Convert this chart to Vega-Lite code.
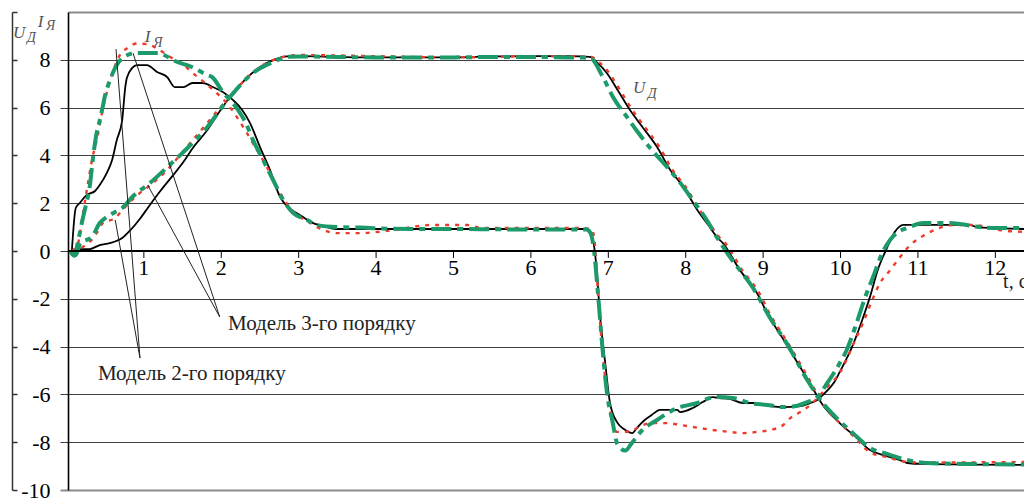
{
  "$schema": "https://vega.github.io/schema/vega-lite/v6.json",
  "width": 956,
  "height": 478,
  "autosize": "none",
  "padding": {"left": 68, "top": 12, "right": 0, "bottom": 8},
  "background": "white",
  "config": {"view": {"stroke": null}},
  "datasets": {
    "black": [
      {"c":"I","t":0.07,"v":0},{"c":"I","t":0.12,"v":1.8},{"c":"I","t":0.17,"v":2.0},{"c":"I","t":0.26,"v":2.34},{"c":"I","t":0.37,"v":2.51},{"c":"I","t":0.43,"v":2.76},{"c":"I","t":0.52,"v":3.26},{"c":"I","t":0.59,"v":3.81},{"c":"I","t":0.65,"v":4.64},{"c":"I","t":0.72,"v":5.48},{"c":"I","t":0.76,"v":6.86},{"c":"I","t":0.78,"v":7.24},{"c":"I","t":0.85,"v":7.66},{"c":"I","t":0.91,"v":7.78},{"c":"I","t":1.04,"v":7.78},{"c":"I","t":1.17,"v":7.49},{"c":"I","t":1.3,"v":7.28},{"c":"I","t":1.4,"v":6.86},{"c":"I","t":1.51,"v":6.86},{"c":"I","t":1.63,"v":7.03},{"c":"I","t":1.76,"v":7.03},{"c":"I","t":1.89,"v":6.86},{"c":"I","t":2.02,"v":6.65},{"c":"I","t":2.15,"v":6.32},{"c":"I","t":2.27,"v":5.9},{"c":"I","t":2.37,"v":5.36},{"c":"I","t":2.5,"v":4.35},{"c":"I","t":2.63,"v":3.39},{"c":"I","t":2.76,"v":2.26},{"c":"I","t":2.89,"v":1.76},{"c":"I","t":3.02,"v":1.5},{"c":"I","t":3.15,"v":1.22},{"c":"I","t":3.3,"v":1.05},{"c":"I","t":3.49,"v":0.92},{"c":"I","t":4.5,"v":0.92},{"c":"I","t":5.5,"v":0.92},{"c":"I","t":6.5,"v":0.92},{"c":"I","t":6.72,"v":0.92},{"c":"I","t":6.77,"v":0.7},{"c":"I","t":6.81,"v":0.33},{"c":"I","t":6.85,"v":-0.8},{"c":"I","t":6.89,"v":-2.59},{"c":"I","t":6.96,"v":-4.69},{"c":"I","t":7.02,"v":-6.32},{"c":"I","t":7.11,"v":-7.15},{"c":"I","t":7.22,"v":-7.49},{"c":"I","t":7.31,"v":-7.62},{"c":"I","t":7.37,"v":-7.4},{"c":"I","t":7.47,"v":-7.07},{"c":"I","t":7.56,"v":-6.86},{"c":"I","t":7.67,"v":-6.65},{"c":"I","t":7.89,"v":-6.65},{"c":"I","t":7.93,"v":-6.74},{"c":"I","t":8.09,"v":-6.57},{"c":"I","t":8.22,"v":-6.32},{"c":"I","t":8.35,"v":-6.11},{"c":"I","t":8.44,"v":-6.15},{"c":"I","t":8.57,"v":-6.19},{"c":"I","t":8.74,"v":-6.36},{"c":"I","t":8.87,"v":-6.36},{"c":"I","t":9.09,"v":-6.49},{"c":"I","t":9.26,"v":-6.53},{"c":"I","t":9.48,"v":-6.49},{"c":"I","t":9.61,"v":-6.36},{"c":"I","t":9.7,"v":-6.23},{"c":"I","t":9.77,"v":-6.03},{"c":"I","t":9.86,"v":-5.73},{"c":"I","t":9.92,"v":-5.48},{"c":"I","t":9.99,"v":-5.06},{"c":"I","t":10.16,"v":-3.93},{"c":"I","t":10.28,"v":-2.89},{"c":"I","t":10.38,"v":-1.92},{"c":"I","t":10.48,"v":-0.8},{"c":"I","t":10.6,"v":0.13},{"c":"I","t":10.7,"v":0.79},{"c":"I","t":10.81,"v":1.09},{"c":"I","t":11.07,"v":1.09},{"c":"I","t":11.67,"v":1.09},{"c":"I","t":11.76,"v":1.0},{"c":"I","t":12.02,"v":0.96},{"c":"I","t":12.37,"v":0.92},
      {"c":"U","t":0.07,"v":0},{"c":"U","t":0.17,"v":0.08},{"c":"U","t":0.3,"v":0.08},{"c":"U","t":0.43,"v":0.25},{"c":"U","t":0.56,"v":0.33},{"c":"U","t":0.72,"v":0.54},{"c":"U","t":0.82,"v":0.85},{"c":"U","t":0.95,"v":1.35},{"c":"U","t":1.05,"v":1.8},{"c":"U","t":1.21,"v":2.5},{"c":"U","t":1.36,"v":3.1},{"c":"U","t":1.51,"v":3.72},{"c":"U","t":1.63,"v":4.3},{"c":"U","t":1.82,"v":5.06},{"c":"U","t":1.98,"v":5.85},{"c":"U","t":2.15,"v":6.6},{"c":"U","t":2.33,"v":7.24},{"c":"U","t":2.5,"v":7.7},{"c":"U","t":2.67,"v":7.99},{"c":"U","t":2.85,"v":8.14},{"c":"U","t":3.02,"v":8.15},{"c":"U","t":3.5,"v":8.12},{"c":"U","t":4.0,"v":8.1},{"c":"U","t":4.5,"v":8.1},{"c":"U","t":5.0,"v":8.1},{"c":"U","t":5.5,"v":8.14},{"c":"U","t":6.0,"v":8.15},{"c":"U","t":6.5,"v":8.15},{"c":"U","t":6.76,"v":8.12},{"c":"U","t":6.85,"v":7.9},{"c":"U","t":6.98,"v":7.45},{"c":"U","t":7.12,"v":6.74},{"c":"U","t":7.28,"v":5.9},{"c":"U","t":7.45,"v":5.15},{"c":"U","t":7.63,"v":4.35},{"c":"U","t":7.8,"v":3.39},{"c":"U","t":7.97,"v":2.68},{"c":"U","t":8.15,"v":1.72},{"c":"U","t":8.31,"v":1.0},{"c":"U","t":8.4,"v":0.59},{"c":"U","t":8.48,"v":0.33},{"c":"U","t":8.7,"v":-0.8},{"c":"U","t":8.92,"v":-1.76},{"c":"U","t":9.05,"v":-2.59},{"c":"U","t":9.3,"v":-3.9},{"c":"U","t":9.58,"v":-5.4},{"c":"U","t":9.77,"v":-6.44},{"c":"U","t":9.99,"v":-7.2},{"c":"U","t":10.21,"v":-7.82},{"c":"U","t":10.38,"v":-8.33},{"c":"U","t":10.55,"v":-8.54},{"c":"U","t":10.77,"v":-8.75},{"c":"U","t":10.86,"v":-8.87},{"c":"U","t":11.07,"v":-8.91},{"c":"U","t":12.37,"v":-8.95}
    ],
    "red": [
      {"c":"I","t":0.07,"v":0},{"c":"I","t":0.15,"v":0.33},{"c":"I","t":0.2,"v":1.3},{"c":"I","t":0.27,"v":2.68},{"c":"I","t":0.33,"v":3.81},{"c":"I","t":0.4,"v":4.77},{"c":"I","t":0.46,"v":5.78},{"c":"I","t":0.53,"v":6.74},{"c":"I","t":0.6,"v":7.5},{"c":"I","t":0.69,"v":8.2},{"c":"I","t":0.79,"v":8.5},{"c":"I","t":0.91,"v":8.68},{"c":"I","t":1.04,"v":8.66},{"c":"I","t":1.18,"v":8.45},{"c":"I","t":1.34,"v":8.12},{"c":"I","t":1.5,"v":7.82},{"c":"I","t":1.63,"v":7.45},{"c":"I","t":1.76,"v":7.11},{"c":"I","t":1.94,"v":6.61},{"c":"I","t":2.07,"v":6.19},{"c":"I","t":2.2,"v":5.61},{"c":"I","t":2.33,"v":4.94},{"c":"I","t":2.46,"v":4.23},{"c":"I","t":2.59,"v":3.51},{"c":"I","t":2.76,"v":2.43},{"c":"I","t":2.89,"v":1.8},{"c":"I","t":3.02,"v":1.42},{"c":"I","t":3.15,"v":1.17},{"c":"I","t":3.27,"v":0.95},{"c":"I","t":3.49,"v":0.75},{"c":"I","t":3.79,"v":0.75},{"c":"I","t":4.14,"v":0.84},{"c":"I","t":4.74,"v":1.09},{"c":"I","t":5.17,"v":1.09},{"c":"I","t":5.38,"v":0.96},{"c":"I","t":6.67,"v":0.96},{"c":"I","t":6.79,"v":0.88},{"c":"I","t":6.83,"v":0.17},{"c":"I","t":6.87,"v":-1.92},{"c":"I","t":6.92,"v":-4.02},{"c":"I","t":6.98,"v":-5.82},{"c":"I","t":7.05,"v":-7.07},{"c":"I","t":7.11,"v":-7.57},{"c":"I","t":7.19,"v":-7.57},{"c":"I","t":7.32,"v":-7.49},{"c":"I","t":7.45,"v":-7.28},{"c":"I","t":7.56,"v":-7.2},{"c":"I","t":7.76,"v":-7.2},{"c":"I","t":7.93,"v":-7.28},{"c":"I","t":8.09,"v":-7.36},{"c":"I","t":8.35,"v":-7.49},{"c":"I","t":8.57,"v":-7.57},{"c":"I","t":8.74,"v":-7.62},{"c":"I","t":8.92,"v":-7.57},{"c":"I","t":9.09,"v":-7.49},{"c":"I","t":9.26,"v":-7.28},{"c":"I","t":9.35,"v":-6.99},{"c":"I","t":9.48,"v":-6.74},{"c":"I","t":9.61,"v":-6.44},{"c":"I","t":9.7,"v":-6.15},{"c":"I","t":9.83,"v":-5.69},{"c":"I","t":9.99,"v":-5.1},{"c":"I","t":10.19,"v":-3.72},{"c":"I","t":10.29,"v":-3.01},{"c":"I","t":10.41,"v":-2.05},{"c":"I","t":10.51,"v":-1.34},{"c":"I","t":10.64,"v":-0.8},{"c":"I","t":10.77,"v":-0.25},{"c":"I","t":10.9,"v":0.25},{"c":"I","t":11.0,"v":0.5},{"c":"I","t":11.13,"v":0.75},{"c":"I","t":11.29,"v":0.98},{"c":"I","t":11.45,"v":1.09},{"c":"I","t":11.7,"v":1.09},{"c":"I","t":11.9,"v":1.0},{"c":"I","t":12.05,"v":0.88},{"c":"I","t":12.37,"v":0.8},
      {"c":"U","t":0.07,"v":0},{"c":"U","t":0.21,"v":0.17},{"c":"U","t":0.3,"v":0.38},{"c":"U","t":0.39,"v":0.75},{"c":"U","t":0.47,"v":1.17},{"c":"U","t":0.63,"v":1.38},{"c":"U","t":0.69,"v":1.59},{"c":"U","t":0.82,"v":2.05},{"c":"U","t":0.95,"v":2.43},{"c":"U","t":1.12,"v":2.85},{"c":"U","t":1.3,"v":3.39},{"c":"U","t":1.47,"v":4.02},{"c":"U","t":1.63,"v":4.64},{"c":"U","t":1.82,"v":5.36},{"c":"U","t":1.98,"v":5.98},{"c":"U","t":2.15,"v":6.61},{"c":"U","t":2.33,"v":7.24},{"c":"U","t":2.5,"v":7.7},{"c":"U","t":2.67,"v":7.99},{"c":"U","t":2.85,"v":8.16},{"c":"U","t":3.02,"v":8.2},{"c":"U","t":3.5,"v":8.18},{"c":"U","t":4.0,"v":8.15},{"c":"U","t":4.5,"v":8.12},{"c":"U","t":5.0,"v":8.1},{"c":"U","t":5.5,"v":8.12},{"c":"U","t":6.0,"v":8.15},{"c":"U","t":6.5,"v":8.15},{"c":"U","t":6.78,"v":8.12},{"c":"U","t":6.88,"v":7.9},{"c":"U","t":7.01,"v":7.45},{"c":"U","t":7.15,"v":6.74},{"c":"U","t":7.31,"v":5.9},{"c":"U","t":7.48,"v":5.15},{"c":"U","t":7.66,"v":4.35},{"c":"U","t":7.83,"v":3.39},{"c":"U","t":8.0,"v":2.68},{"c":"U","t":8.18,"v":1.72},{"c":"U","t":8.34,"v":1.0},{"c":"U","t":8.43,"v":0.59},{"c":"U","t":8.51,"v":0.33},{"c":"U","t":8.73,"v":-0.8},{"c":"U","t":8.95,"v":-1.76},{"c":"U","t":9.08,"v":-2.59},{"c":"U","t":9.33,"v":-3.9},{"c":"U","t":9.6,"v":-5.4},{"c":"U","t":9.78,"v":-6.44},{"c":"U","t":9.99,"v":-7.2},{"c":"U","t":10.19,"v":-7.82},{"c":"U","t":10.37,"v":-8.4},{"c":"U","t":10.62,"v":-8.64},{"c":"U","t":10.82,"v":-8.81},{"c":"U","t":11.0,"v":-8.85},{"c":"U","t":12.37,"v":-8.83}
    ],
    "green": [
      {"c":"I","t":0.05,"v":0},{"c":"I","t":0.1,"v":-0.2},{"c":"I","t":0.15,"v":0.4},{"c":"I","t":0.2,"v":1.2},{"c":"I","t":0.25,"v":1.9},{"c":"I","t":0.3,"v":2.68},{"c":"I","t":0.34,"v":3.81},{"c":"I","t":0.39,"v":4.94},{"c":"I","t":0.41,"v":5.19},{"c":"I","t":0.46,"v":5.9},{"c":"I","t":0.5,"v":6.53},{"c":"I","t":0.54,"v":6.95},{"c":"I","t":0.65,"v":7.78},{"c":"I","t":0.79,"v":8.2},{"c":"I","t":0.89,"v":8.28},{"c":"I","t":1.17,"v":8.28},{"c":"I","t":1.43,"v":7.91},{"c":"I","t":1.62,"v":7.7},{"c":"I","t":1.82,"v":7.36},{"c":"I","t":1.88,"v":7.28},{"c":"I","t":2.02,"v":6.65},{"c":"I","t":2.2,"v":5.98},{"c":"I","t":2.31,"v":5.4},{"c":"I","t":2.41,"v":4.64},{"c":"I","t":2.54,"v":3.81},{"c":"I","t":2.67,"v":2.97},{"c":"I","t":2.8,"v":2.13},{"c":"I","t":2.93,"v":1.59},{"c":"I","t":3.11,"v":1.3},{"c":"I","t":3.23,"v":1.09},{"c":"I","t":3.5,"v":1.0},{"c":"I","t":3.8,"v":0.98},{"c":"I","t":4.2,"v":0.93},{"c":"I","t":5.0,"v":0.92},{"c":"I","t":6.0,"v":0.9},{"c":"I","t":6.72,"v":0.9},{"c":"I","t":6.77,"v":0.75},{"c":"I","t":6.81,"v":0.17},{"c":"I","t":6.87,"v":-1.92},{"c":"I","t":6.93,"v":-4.27},{"c":"I","t":6.99,"v":-6.11},{"c":"I","t":7.05,"v":-7.07},{"c":"I","t":7.12,"v":-8.1},{"c":"I","t":7.22,"v":-8.35},{"c":"I","t":7.3,"v":-8.05},{"c":"I","t":7.44,"v":-7.49},{"c":"I","t":7.63,"v":-7.07},{"c":"I","t":7.89,"v":-6.57},{"c":"I","t":8.15,"v":-6.36},{"c":"I","t":8.31,"v":-6.15},{"c":"I","t":8.4,"v":-6.11},{"c":"I","t":8.61,"v":-6.15},{"c":"I","t":8.83,"v":-6.36},{"c":"I","t":9.05,"v":-6.44},{"c":"I","t":9.26,"v":-6.53},{"c":"I","t":9.4,"v":-6.5},{"c":"I","t":9.57,"v":-6.32},{"c":"I","t":9.7,"v":-6.11},{"c":"I","t":9.83,"v":-5.52},{"c":"I","t":9.99,"v":-4.69},{"c":"I","t":10.08,"v":-4.14},{"c":"I","t":10.19,"v":-3.18},{"c":"I","t":10.32,"v":-1.92},{"c":"I","t":10.42,"v":-1.09},{"c":"I","t":10.54,"v":-0.08},{"c":"I","t":10.64,"v":0.46},{"c":"I","t":10.74,"v":0.79},{"c":"I","t":10.86,"v":0.96},{"c":"I","t":11.07,"v":1.17},{"c":"I","t":11.38,"v":1.17},{"c":"I","t":11.54,"v":1.13},{"c":"I","t":11.8,"v":1.0},{"c":"I","t":12.06,"v":0.96},{"c":"I","t":12.37,"v":0.96},
      {"c":"U","t":0.05,"v":0},{"c":"U","t":0.12,"v":-0.18},{"c":"U","t":0.18,"v":0.33},{"c":"U","t":0.33,"v":0.59},{"c":"U","t":0.43,"v":1.17},{"c":"U","t":0.52,"v":1.42},{"c":"U","t":0.63,"v":1.63},{"c":"U","t":0.72,"v":1.8},{"c":"U","t":0.85,"v":2.26},{"c":"U","t":1.08,"v":2.85},{"c":"U","t":1.3,"v":3.5},{"c":"U","t":1.51,"v":4.14},{"c":"U","t":1.82,"v":5.19},{"c":"U","t":2.1,"v":6.4},{"c":"U","t":2.41,"v":7.45},{"c":"U","t":2.67,"v":7.91},{"c":"U","t":2.85,"v":8.12},{"c":"U","t":3.02,"v":8.14},{"c":"U","t":3.5,"v":8.12},{"c":"U","t":4.0,"v":8.1},{"c":"U","t":4.5,"v":8.1},{"c":"U","t":5.0,"v":8.1},{"c":"U","t":5.5,"v":8.12},{"c":"U","t":6.0,"v":8.12},{"c":"U","t":6.5,"v":8.1},{"c":"U","t":6.76,"v":8.08},{"c":"U","t":6.93,"v":7.28},{"c":"U","t":7.06,"v":6.44},{"c":"U","t":7.24,"v":5.61},{"c":"U","t":7.38,"v":4.98},{"c":"U","t":7.56,"v":4.23},{"c":"U","t":7.76,"v":3.51},{"c":"U","t":7.93,"v":2.85},{"c":"U","t":8.09,"v":2.13},{"c":"U","t":8.27,"v":1.3},{"c":"U","t":8.41,"v":0.54},{"c":"U","t":8.57,"v":-0.25},{"c":"U","t":8.87,"v":-1.55},{"c":"U","t":9.09,"v":-2.8},{"c":"U","t":9.33,"v":-4.0},{"c":"U","t":9.57,"v":-5.4},{"c":"U","t":9.77,"v":-6.36},{"c":"U","t":9.95,"v":-6.99},{"c":"U","t":10.16,"v":-7.62},{"c":"U","t":10.38,"v":-8.24},{"c":"U","t":10.6,"v":-8.49},{"c":"U","t":10.86,"v":-8.74},{"c":"U","t":11.12,"v":-8.87},{"c":"U","t":11.63,"v":-8.91},{"c":"U","t":12.37,"v":-8.93}
    ],
    "leaders": [
      {"g":"m3a","t":1.98,"v":-2.76},{"g":"m3a","t":1.05,"v":2.76},
      {"g":"m3b","t":1.98,"v":-2.76},{"g":"m3b","t":0.86,"v":8.28},
      {"g":"m2a","t":0.95,"v":-4.48},{"g":"m2a","t":0.63,"v":1.3},
      {"g":"m2b","t":0.95,"v":-4.48},{"g":"m2b","t":0.64,"v":8.45}
    ],
    "xticks": [
      {"t":1},{"t":2},{"t":3},{"t":4},{"t":5},{"t":6},{"t":7},{"t":8},{"t":9},{"t":10},{"t":11},{"t":12}
    ],
    "models": [
      {"t":2.087,"v":-3.31,"txt":"Модель 3-го порядку"},
      {"t":0.407,"v":-5.4,"txt":"Модель 2-го порядку"}
    ],
    "bigIt": [
      {"t":-0.69,"v":8.91,"txt":"U"},
      {"t":-0.37,"v":9.37,"txt":"I"},
      {"t":1.01,"v":8.74,"txt":"I"},
      {"t":7.32,"v":6.61,"txt":"U"}
    ],
    "subIt": [
      {"t":-0.51,"v":8.74,"txt":"Д"},
      {"t":-0.265,"v":9.25,"txt":"Я"},
      {"t":1.12,"v":8.54,"txt":"Я"},
      {"t":7.51,"v":6.4,"txt":"Д"}
    ],
    "unit": [
      {"t":12.1,"v":-1.55,"txt":"t, с"}
    ]
  },
  "resolve": {"axis": {"y": "independent"}},
  "layer": [
    {
      "data": {"name": "black"},
      "mark": {"type": "line", "color": "black", "strokeWidth": 1.8, "interpolate": "monotone"},
      "encoding": {
        "x": {"field": "t", "type": "quantitative", "scale": {"domain": [0.02, 12.37], "nice": false, "zero": false}, "axis": null},
        "y": {"field": "v", "type": "quantitative", "scale": {"domain": [-10, 10], "nice": false, "zero": false},
          "axis": {"values": [-10,-8,-6,-4,-2,0,2,4,6,8,10], "title": null, "orient": "left", "domain": true, "domainColor": "black", "domainWidth": 1.6, "ticks": true, "tickSize": 8,
            "tickColor": {"condition": {"test": "abs(datum.value) == 10", "value": "#8c8c8c"}, "value": "#404040"},
            "tickWidth": {"condition": {"test": "abs(datum.value) == 10", "value": 2}, "value": 1},
            "tickOpacity": {"condition": {"test": "datum.value == 10", "value": 0}, "value": 1},
            "labelExpr": "datum.value == 10 ? '' : '' + datum.value",
            "labelFont": "Liberation Serif", "labelFontSize": 22, "labelColor": "black", "labelPadding": 10, "labelBaseline": "middle", "labelFlush": false, "labelOverlap": false,
            "grid": true,
            "gridColor": {"condition": {"test": "abs(datum.value) == 10", "value": "#8c8c8c"}, "value": "#404040"},
            "gridWidth": {"condition": {"test": "abs(datum.value) == 10", "value": 2}, "value": 1}}},
        "detail": {"field": "c"}
      }
    },
    {
      "data": {"name": "red"},
      "mark": {"type": "line", "color": "#ee3a2a", "strokeWidth": 2.4, "strokeDash": [4, 6], "interpolate": "monotone"},
      "encoding": {
        "x": {"field": "t", "type": "quantitative", "scale": {"domain": [0.02, 12.37], "nice": false, "zero": false}, "axis": null},
        "y": {"field": "v", "type": "quantitative", "scale": {"domain": [-10, 10], "nice": false, "zero": false},
          "axis": {"values": [-10,-8,-6,-4,-2,0,2,4,6,8,10], "title": null, "orient": "left", "offset": 56, "labels": false, "grid": false, "domain": true, "domainColor": "#333333", "domainWidth": 1.5, "ticks": true, "tickSize": -5, "tickColor": "#333333", "tickWidth": 1.5}},
        "detail": {"field": "c"}
      }
    },
    {
      "data": {"name": "green"},
      "mark": {"type": "line", "color": "#1c9a6a", "strokeWidth": 4, "strokeDash": [20, 6, 6, 6], "interpolate": "monotone"},
      "encoding": {
        "x": {"field": "t", "type": "quantitative", "scale": {"domain": [0.02, 12.37], "nice": false, "zero": false}, "axis": null},
        "y": {"field": "v", "type": "quantitative", "scale": {"domain": [-10, 10], "nice": false, "zero": false}, "axis": null},
        "detail": {"field": "c"}
      }
    },
    {
      "data": {"name": "xticks"},
      "mark": {"type": "rule", "color": "black", "strokeWidth": 1.5},
      "encoding": {"y": {"datum": 0, "type": "quantitative", "axis": null}}
    },
    {
      "data": {"name": "xticks"},
      "mark": {"type": "rule", "color": "black", "strokeWidth": 1},
      "encoding": {
        "x": {"field": "t", "type": "quantitative", "axis": null},
        "y": {"datum": 0, "type": "quantitative", "axis": null},
        "y2": {"datum": -0.29}
      }
    },
    {
      "data": {"name": "xticks"},
      "mark": {"type": "text", "font": "Liberation Serif", "fontSize": 22, "align": "center", "baseline": "top", "dy": 7, "color": "black"},
      "encoding": {
        "x": {"field": "t", "type": "quantitative", "axis": null},
        "y": {"datum": 0, "type": "quantitative", "axis": null},
        "text": {"field": "t", "type": "quantitative"}
      }
    },
    {
      "data": {"name": "leaders"},
      "mark": {"type": "line", "color": "#222222", "strokeWidth": 1},
      "encoding": {
        "x": {"field": "t", "type": "quantitative", "axis": null},
        "y": {"field": "v", "type": "quantitative", "axis": null},
        "detail": {"field": "g"}
      }
    },
    {
      "data": {"name": "models"},
      "mark": {"type": "text", "font": "Liberation Serif", "fontSize": 21, "align": "left", "baseline": "alphabetic", "color": "#222222"},
      "encoding": {
        "x": {"field": "t", "type": "quantitative", "axis": null},
        "y": {"field": "v", "type": "quantitative", "axis": null},
        "text": {"field": "txt"}
      }
    },
    {
      "data": {"name": "bigIt"},
      "mark": {"type": "text", "font": "Liberation Serif", "fontSize": 17, "fontStyle": "italic", "align": "left", "baseline": "alphabetic", "color": "#555555"},
      "encoding": {
        "x": {"field": "t", "type": "quantitative", "axis": null},
        "y": {"field": "v", "type": "quantitative", "axis": null},
        "text": {"field": "txt"}
      }
    },
    {
      "data": {"name": "subIt"},
      "mark": {"type": "text", "font": "Liberation Serif", "fontSize": 14, "fontStyle": "italic", "align": "left", "baseline": "alphabetic", "color": "#555555"},
      "encoding": {
        "x": {"field": "t", "type": "quantitative", "axis": null},
        "y": {"field": "v", "type": "quantitative", "axis": null},
        "text": {"field": "txt"}
      }
    },
    {
      "data": {"name": "unit"},
      "mark": {"type": "text", "font": "Liberation Serif", "fontSize": 20, "align": "left", "baseline": "alphabetic", "color": "#222222"},
      "encoding": {
        "x": {"field": "t", "type": "quantitative", "axis": null},
        "y": {"field": "v", "type": "quantitative", "axis": null},
        "text": {"field": "txt"}
      }
    }
  ]
}
